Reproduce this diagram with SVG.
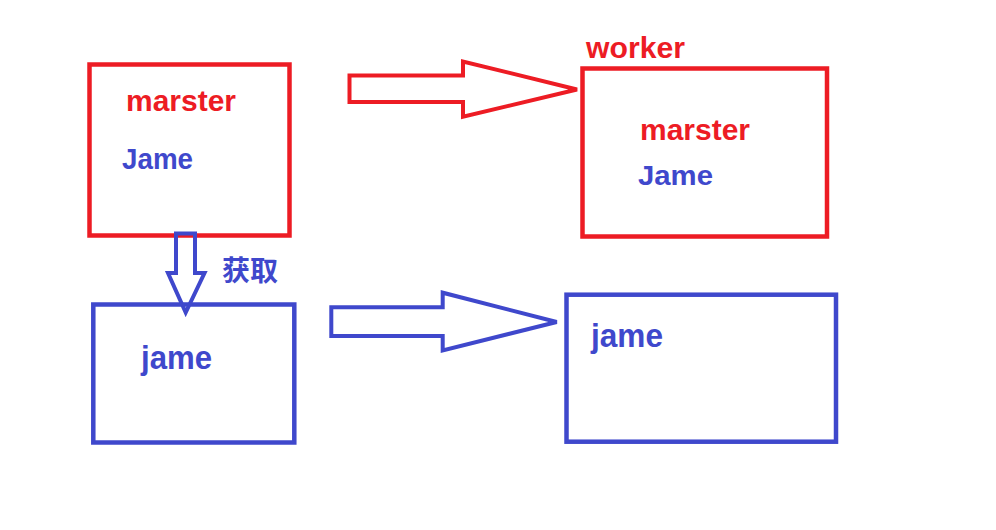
<svg xmlns="http://www.w3.org/2000/svg" width="996" height="530" viewBox="0 0 996 530">
<style>
.bg{fill:#ffffff}
.rbox{fill:none;stroke:#ED1C24;stroke-width:4.5}
.bbox{fill:none;stroke:#3F48CC;stroke-width:4.5}
.rarr{fill:none;stroke:#ED1C24;stroke-width:4;stroke-linejoin:miter}
.barr{fill:none;stroke:#3F48CC;stroke-width:4;stroke-linejoin:miter}
.t{font-family:"Liberation Sans",Arial,sans-serif;font-weight:bold}
.red{fill:#ED1C24}
.blue{fill:#3F48CC}
.cjk{font-family:"Liberation Sans","Noto Sans CJK SC",sans-serif;font-weight:bold}
</style>
<rect class="bg" x="0" y="0" width="996" height="530"/>
<g id="node-master">
<rect class="rbox" x="89.5" y="64.5" width="200" height="171"/>
<text class="t red" x="126" y="110.5" font-size="30" textLength="110" lengthAdjust="spacingAndGlyphs">marster</text>
<text class="t blue" x="122" y="169" font-size="29" textLength="71" lengthAdjust="spacingAndGlyphs">Jame</text>
</g>
<g id="node-worker">
<text class="t red" x="586" y="58" font-size="30" textLength="99" lengthAdjust="spacingAndGlyphs">worker</text>
<rect class="rbox" x="582.5" y="68.5" width="244.5" height="168"/>
<text class="t red" x="640" y="140" font-size="30" textLength="110" lengthAdjust="spacingAndGlyphs">marster</text>
<text class="t blue" x="638" y="185" font-size="28" textLength="75" lengthAdjust="spacingAndGlyphs">Jame</text>
</g>
<g id="node-jame-left">
<rect class="bbox" x="93.3" y="304.5" width="201" height="138"/>
<text class="t blue" x="141" y="369" font-size="33" textLength="71" lengthAdjust="spacingAndGlyphs">jame</text>
</g>
<g id="node-jame-right">
<rect class="bbox" x="566.5" y="294.7" width="269.5" height="147"/>
<text class="t blue" x="591" y="347" font-size="34" textLength="72" lengthAdjust="spacingAndGlyphs">jame</text>
</g>
<g id="connectors">
<polygon class="rarr" points="349.5,75.5 463,75.5 463,61.5 577,89.5 463,116.7 463,102 349.5,102"/>
<polygon class="barr" points="331.3,307.3 442.7,307.3 442.7,292.7 556.7,322 442.7,350.5 442.7,336 331.3,336"/>
<polygon class="barr" points="176,233.5 176,273 168,273 185.7,312.5 204.5,273 195,273 195,233.5"/>
<text class="cjk blue" x="222" y="281" font-size="28">获取</text>
</g>
</svg>
